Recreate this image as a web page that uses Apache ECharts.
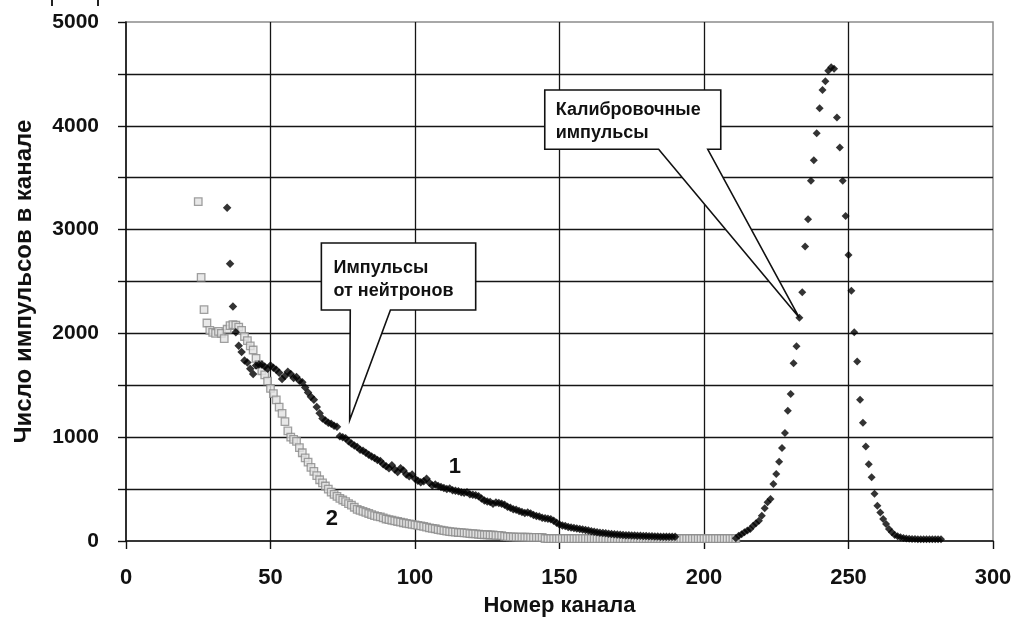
<!DOCTYPE html>
<html><head><meta charset="utf-8">
<script src="https://cdn.jsdelivr.net/npm/echarts@6/dist/echarts.min.js"></script>
<style>html,body{margin:0;padding:0;background:#fff}#c{width:1013px;height:621px}</style>
</head><body><div id="c"></div>
<script>
// Curve 1: pulses from neutrons (channel, counts)
const neutronPulses = [[35,3210],[36,2670],[37,2260],[38,2010],[39,1880],[40,1820],[41,1740],[42,1720],[43,1660],[44,1610],[45,1690],[46,1700],[47,1700],[48,1680],[49,1660],[50,1690],[51,1670],[52,1650],[53,1620],[54,1560],[55,1590],[56,1630],[57,1610],[58,1570],[59,1580],[60,1545],[61,1530],[62,1480],[63,1430],[64,1390],[65,1360],[66,1290],[67,1230],[68,1180],[69,1160],[70,1140],[71,1130],[72,1110],[73,1100],[74,1010],[75,1000],[76,990],[77,960],[78,940],[79,920],[80,905],[81,880],[82,870],[83,850],[84,830],[85,815],[86,800],[87,780],[88,770],[89,740],[90,720],[91,700],[92,730],[93,690],[94,665],[95,700],[96,680],[97,640],[98,625],[99,640],[100,600],[101,580],[102,565],[103,575],[104,600],[105,560],[106,535],[107,545],[108,530],[109,520],[110,510],[111,500],[112,505],[113,490],[114,485],[115,480],[116,470],[117,465],[118,470],[119,450],[120,445],[121,440],[122,430],[123,410],[124,390],[125,380],[126,375],[127,360],[128,370],[129,365],[130,360],[131,350],[132,330],[133,320],[134,305],[135,300],[136,290],[137,280],[138,270],[139,275],[140,265],[141,250],[142,240],[143,235],[144,225],[145,220],[146,215],[147,210],[148,195],[149,175],[150,160],[151,150],[152,145],[153,135],[154,130],[155,125],[156,120],[157,115],[158,110],[159,105],[160,100],[161,95],[162,90],[163,85],[164,80],[165,78],[166,75],[167,70],[168,68],[169,65],[170,62],[171,60],[172,58],[173,56],[174,55],[175,53],[176,52],[177,50],[178,50],[179,48],[180,47],[181,46],[182,45],[183,44],[184,43],[185,42],[186,42],[187,41],[188,40],[189,40],[190,40]];
// Curve 1: calibration pulse peak (channel, counts)
const calibrationPulses = [[211,26],[212,51],[213,65],[214,84],[215,100],[216,116],[217,147],[218,170],[219,196],[220,244],[221,315],[222,373],[223,405],[224,549],[225,645],[226,764],[227,896],[228,1040],[229,1255],[230,1416],[231,1712],[232,1876],[233,2150],[234,2396],[235,2836],[236,3099],[237,3471],[238,3667],[239,3928],[240,4169],[241,4345],[242,4430],[243,4530],[244,4565],[245,4550],[246,4080],[247,3790],[248,3470],[249,3130],[250,2755],[251,2410],[252,2010],[253,1730],[254,1360],[255,1140],[256,910],[257,740],[258,615],[259,455],[260,340],[261,275],[262,212],[263,164],[264,116],[265,84],[266,58],[267,45],[268,35],[269,28],[270,25],[271,22],[272,20],[273,20],[274,18],[275,18],[276,18],[277,18],[278,18],[279,18],[280,18],[281,18],[282,18]];
// Curve 2 (channel, counts)
const curve2 = [[25,3270],[26,2540],[27,2230],[28,2100],[29,2030],[30,2010],[31,2000],[32,2020],[33,2000],[34,1950],[35,2040],[36,2075],[37,2085],[38,2080],[39,2060],[40,2030],[41,1970],[42,1930],[43,1880],[44,1840],[45,1760],[46,1700],[47,1640],[48,1600],[49,1540],[50,1470],[51,1420],[52,1360],[53,1290],[54,1230],[55,1150],[56,1060],[57,1000],[58,980],[59,960],[60,900],[61,850],[62,800],[63,760],[64,710],[65,670],[66,630],[67,590],[68,560],[69,530],[70,500],[71,470],[72,450],[73,430],[74,410],[75,395],[76,380],[77,360],[78,345],[79,325],[80,305],[81,295],[82,285],[83,275],[84,265],[85,255],[86,245],[87,238],[88,232],[89,222],[90,212],[91,206],[92,200],[93,194],[94,188],[95,182],[96,176],[97,170],[98,165],[99,160],[100,155],[101,150],[102,145],[103,140],[104,133],[105,127],[106,122],[107,118],[108,110],[109,105],[110,100],[111,95],[112,90],[113,88],[114,85],[115,82],[116,80],[117,78],[118,75],[119,72],[120,70],[121,68],[122,65],[123,62],[124,60],[125,60],[126,58],[127,58],[128,55],[129,55],[130,52],[131,45],[132,42],[133,40],[134,40],[135,38],[136,38],[137,38],[138,36],[139,36],[140,35],[141,35],[142,35],[143,35],[144,34],[145,24],[146,22],[147,22],[148,22],[149,22],[150,22],[151,22],[152,22],[153,22],[154,22],[155,22],[156,22],[157,22],[158,22],[159,22],[160,22],[161,22],[162,22],[163,22],[164,22],[165,22],[166,22],[167,22],[168,22],[169,22],[170,22],[171,22],[172,22],[173,22],[174,22],[175,22],[176,22],[177,22],[178,22],[179,22],[180,22],[181,22],[182,22],[183,22],[184,22],[185,22],[186,22],[187,22],[188,22],[189,22],[190,22],[191,22],[192,22],[193,22],[194,22],[195,22],[196,22],[197,22],[198,22],[199,22],[200,22],[201,22],[202,22],[203,22],[204,22],[205,22],[206,22],[207,22],[208,22],[209,22],[210,22],[211,22]];

const xTitle = 'Номер канала';
const yTitle = 'Число импульсов в канале';

// Callout anchors in data coordinates
const calloutNeutron = { box: [67.6, 2871, 121, 2225], base: [77.6, 91.5], tip: [77.4, 1166], at: [71.8, 2630, 2408], lines: ['Импульсы', 'от нейтронов'] };
const calloutCalib = { box: [144.9, 4345, 205.8, 3774], base: [184.3, 201.3], tip: [233, 2150], at: [148.7, 4152, 3931], lines: ['Калибровочные', 'импульсы'] };
const curveLabels = [['1', 113.8, 713], ['2', 71.2, 212]];

const FONT = '"Liberation Sans", Arial, sans-serif';
const chart = echarts.init(document.getElementById('c'), null, { renderer: 'canvas' });
const blackStyle = { color: '#000' };
chart.setOption({
  backgroundColor: '#fff',
  animation: false,
  grid: { left: 126, right: 20, top: 22, bottom: 80, show: true, borderColor: '#8c8c8c', borderWidth: 1.5, containLabel: false, outerBoundsMode: 'none' },
  xAxis: {
    type: 'value', min: 0, max: 300, interval: 50,
    name: xTitle, nameLocation: 'middle', nameGap: 54,
    nameTextStyle: { fontFamily: FONT, fontWeight: 'bold', fontSize: 22, color: '#111' },
    axisLine: { show: true, onZero: false, lineStyle: { color: '#111', width: 1.6 } },
    axisTick: { show: true, inside: false, length: 8, lineStyle: { color: '#111', width: 1.4 } },
    axisLabel: { fontFamily: FONT, fontWeight: 'bold', fontSize: 22, color: '#111', margin: 26 },
    splitLine: { show: true, showMinLine: false, showMaxLine: false, lineStyle: { color: '#151515', width: 1.3 } }
  },
  yAxis: {
    type: 'value', min: 0, max: 5000, interval: 500,
    name: yTitle, nameLocation: 'middle', nameGap: 90, nameRotate: 90,
    nameTextStyle: { fontFamily: FONT, fontWeight: 'bold', fontSize: 24, color: '#111' },
    axisLine: { show: true, onZero: false, lineStyle: { color: '#111', width: 1.6 } },
    axisTick: { show: true, inside: false, length: 8, lineStyle: { color: '#111', width: 1.4 } },
    axisLabel: { fontFamily: FONT, fontWeight: 'bold', fontSize: 21, color: '#111', margin: 27,
      formatter: v => (v % 1000 === 0 ? String(v) : '') },
    splitLine: { show: true, showMinLine: false, showMaxLine: false, lineStyle: { color: '#151515', width: 1.3 } }
  },
  series: [
    { name: '2', type: 'scatter', data: curve2, symbol: 'rect', symbolSize: 7.5, z: 2,
      itemStyle: { color: '#e2e2e2', borderColor: '#8a8a8a', borderWidth: 1.3 } },
    { name: '1', type: 'scatter', data: neutronPulses, symbol: 'diamond', symbolSize: 8.5, z: 3, itemStyle: blackStyle },
    { name: '1c', type: 'scatter', data: calibrationPulses, symbol: 'diamond', symbolSize: 8, z: 3, itemStyle: blackStyle }
  ]
});

function px(p) { return chart.convertToPixel({ gridIndex: 0 }, p); }
function callout(c) {
  const tl = px([c.box[0], c.box[1]]), br = px([c.box[2], c.box[3]]);
  const b1 = px([c.base[0], c.box[3]]), b2 = px([c.base[1], c.box[3]]);
  const tip = px(c.tip);
  const pts = [[tl[0], tl[1]], [br[0], tl[1]], [br[0], br[1]], [b2[0], br[1]], [tip[0], tip[1]], [b1[0], br[1]], [tl[0], br[1]]];
  const els = [{ type: 'polygon', z: 50, shape: { points: pts }, style: { fill: '#fff', stroke: '#111', lineWidth: 1.6 } }];
  c.lines.forEach((t, i) => {
    const p = px([c.at[0], c.at[1 + i]]);
    els.push({ type: 'text', z: 51, x: p[0], y: p[1], style: { text: t, fill: '#111', font: 'bold 18px ' + FONT, textAlign: 'left', textVerticalAlign: 'middle' } });
  });
  return els;
}
let graphics = [].concat(callout(calloutNeutron), callout(calloutCalib));
curveLabels.forEach(l => {
  const p = px([l[1], l[2]]);
  graphics.push({ type: 'text', z: 52, x: p[0], y: p[1], style: { text: l[0], fill: '#111', font: 'bold 22px ' + FONT, textAlign: 'center', textVerticalAlign: 'middle' } });
});
graphics.push({ type: 'rect', shape: { x: 51, y: 0, width: 2, height: 6 }, style: { fill: '#222' } });
graphics.push({ type: 'rect', shape: { x: 97, y: 0, width: 2, height: 6 }, style: { fill: '#222' } });
chart.setOption({ graphic: graphics });
</script></body></html>
